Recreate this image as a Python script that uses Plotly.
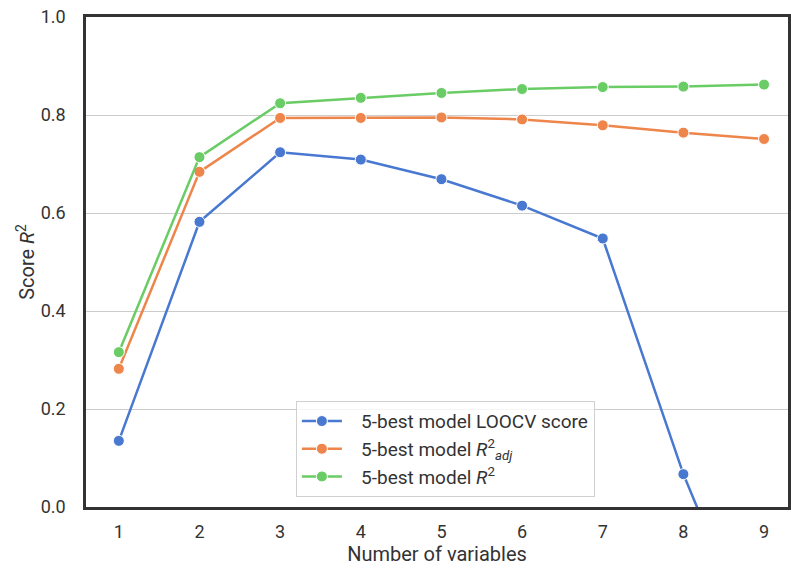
import plotly.graph_objects as go

n_vars = [1, 2, 3, 4, 5, 6, 7, 8, 9]
loocv = [0.135, 0.582, 0.724, 0.709, 0.669, 0.615, 0.548, 0.067, -0.33]
r2_adj = [0.282, 0.684, 0.794, 0.794, 0.795, 0.791, 0.779, 0.764, 0.751]
r2 = [0.316, 0.714, 0.824, 0.835, 0.845, 0.853, 0.857, 0.858, 0.862]

pad = "\u00a0\u00a0\u00a0"
names = [pad + "5-best model LOOCV score",
         pad + "5-best model <i>R</i><sup>2</sup><sub><i>adj</i></sub>",
         pad + "5-best model <i>R</i><sup>2</sup>"]
colors = ["#4878d0", "#ee854a", "#6acc64"]

fig = go.Figure()
for ys, nm, c in zip([loocv, r2_adj, r2], names, colors):
    fig.add_trace(go.Scatter(
        x=n_vars, y=ys, name=nm, mode="lines+markers",
        line=dict(color=c, width=2.5),
        marker=dict(color=c, size=11, line=dict(color="white", width=1)),
    ))

fig.update_layout(
    width=791, height=571,
    margin=dict(l=86, r=0, t=17, b=64),
    plot_bgcolor="white", paper_bgcolor="white",
    font=dict(family="Roboto", size=18, color="#333333"),
    showlegend=True,
    legend=dict(x=0.299, y=0.02, xanchor="left", yanchor="bottom",
                bordercolor="#d0d0d0", borderwidth=1, bgcolor="rgba(255,255,255,0.8)",
                font=dict(size=19), tracegroupgap=0, itemwidth=40),
    xaxis=dict(range=[0.593, 9.297], tickmode="array", tickvals=n_vars,
               showgrid=False, zeroline=False, showline=True, mirror=True,
               linecolor="#333333", linewidth=2.5, ticks="outside", ticklen=7,
               tickcolor="rgba(0,0,0,0)", tickfont=dict(size=18),
               title=dict(text="Number of variables", standoff=5, font=dict(size=20))),
    yaxis=dict(range=[0, 1.0], tickvals=[0, 0.2, 0.4, 0.6, 0.8, 1.0],
               ticktext=["0.0", "0.2", "0.4", "0.6", "0.8", "1.0"],
               showgrid=True, gridcolor="#cccccc", gridwidth=1, zeroline=False,
               showline=True, mirror=True, linecolor="#333333", linewidth=2.5,
               ticks="outside", ticklen=14, tickcolor="rgba(0,0,0,0)",
               tickfont=dict(size=18),
               title=dict(text="Score <i>R</i><sup>2</sup>", standoff=1, font=dict(size=20))),
)

fig.write_html("out.html")
